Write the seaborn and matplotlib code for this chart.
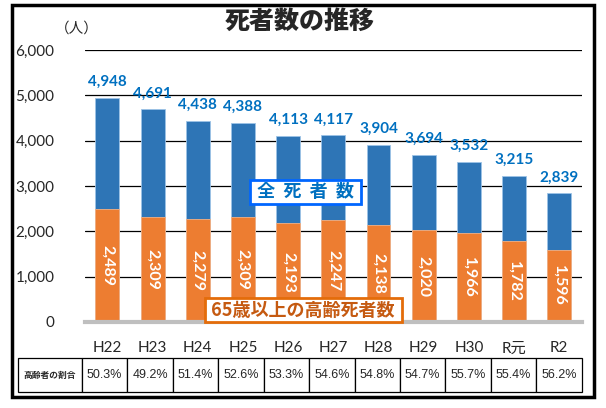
import numpy as np
import pandas as pd
import matplotlib
matplotlib.use("Agg")
import matplotlib.pyplot as plt
import seaborn as sns
from matplotlib.patches import Rectangle

years = ["H22", "H23", "H24", "H25", "H26", "H27", "H28", "H29", "H30", "R元", "R2"]
total = [4948, 4691, 4438, 4388, 4113, 4117, 3904, 3694, 3532, 3215, 2839]
elderly = [2489, 2309, 2279, 2309, 2193, 2247, 2138, 2020, 1966, 1782, 1596]
ratio = ["50.3%", "49.2%", "51.4%", "52.6%", "53.3%", "54.6%", "54.8%", "54.7%",
         "55.7%", "55.4%", "56.2%"]

blue = "#2E75B6"
orange = "#ED7D31"
label_blue = "#0070C0"
dark_orange = "#C55A11"

sns.set_style("white")
plt.rcParams['font.family'] = ['Lato', 'Noto Sans CJK JP']

df = pd.DataFrame({"year": years, "total": total, "elderly": elderly})

fig = plt.figure(figsize=(6.06, 4.08), dpi=100)
ax = fig.add_axes([0.140, 0.2108, 0.820, 0.6667])

sns.barplot(data=df, x="year", y="total", color=blue, width=0.53,
            saturation=1, edgecolor="#9DC3E6", linewidth=0.6, ax=ax, zorder=3)
sns.barplot(data=df, x="year", y="elderly", color=orange, width=0.53,
            saturation=1, edgecolor="#F4B183", linewidth=0.6, ax=ax, zorder=4)

ax.set_xlim(-0.5, 10.5)
ax.set_ylim(0, 6000)
ax.set_yticks(np.arange(0, 6001, 1000))
ax.set_yticklabels([f"{v:,}" for v in range(0, 6001, 1000)], fontsize=11)
ax.yaxis.grid(True, color="black", linewidth=0.9, zorder=0)
ax.set_axisbelow(True)
ax.tick_params(axis="y", length=0, pad=22)
ax.tick_params(axis="x", length=0, pad=14, labelsize=11)
ax.set_xlabel("")
ax.set_ylabel("")
for s in ["left", "right", "top"]:
    ax.spines[s].set_visible(False)
ax.spines["bottom"].set_color("#BFBFBF")
ax.spines["bottom"].set_linewidth(3)
ax.spines["bottom"].set_zorder(5)

for i, (t, e) in enumerate(zip(total, elderly)):
    ax.annotate(f"{t:,}", (i, t), xytext=(0, 11.5), textcoords="offset points",
                ha="center", va="center", fontsize=11, fontweight="bold",
                color=label_blue, zorder=6)
    ax.text(i, e / 2, f"{e:,}", rotation=-90, ha="center", va="center",
            fontsize=11.5, fontweight="bold", color="white", zorder=6)

ax.text(4.38, 2870, " 全  死  者  数 ", ha="center", va="center", fontsize=13,
        fontweight="bold", color=label_blue, zorder=7,
        family=["Noto Sans CJK JP"],
        bbox=dict(boxstyle="square,pad=0.15", fc="white", ec="#0066FF", lw=2))
ax.text(4.33, 265, " 65歳以上の高齢死者数 ", ha="center", va="center", fontsize=13,
        fontweight="bold", color=dark_orange, zorder=7,
        family=["Noto Sans CJK JP"],
        bbox=dict(boxstyle="square,pad=0.15", fc="white", ec="#E46C0A", lw=2))

# table of elderly ratio
tbl = ax.table(cellText=[["高齢者の割合"] + ratio],
               colWidths=[64 / 564] + [45.45 / 564] * len(ratio),
               cellLoc="center",
               bbox=[-0.1348, -0.2574, 1.1348, 0.125])
tbl.auto_set_font_size(False)
for (r, c), cell in tbl.get_celld().items():
    cell.set_linewidth(0.9)
    cell.set_edgecolor("black")
    if c == 0:
        cell.get_text().set_fontsize(6.3)
        cell.get_text().set_fontweight("bold")
        cell.get_text().set_family(["Noto Sans CJK JP"])
    else:
        cell.get_text().set_fontsize(9)
        cell.get_text().set_family(["Liberation Sans Narrow", "Liberation Sans"])

fig.text(0.495, 0.948, "死者数の推移", ha="center", va="center", fontsize=18,
         fontweight="black", family=["Noto Sans CJK JP"])
fig.text(0.127, 0.931, "（人）", ha="center", va="center", fontsize=10.5)

fig.patches.append(Rectangle((12 / 606, 1 - 397 / 408), 582 / 606, 392 / 408,
                             transform=fig.transFigure, fill=False,
                             ec="black", lw=2.5))

fig.savefig("out.png", dpi=100)
